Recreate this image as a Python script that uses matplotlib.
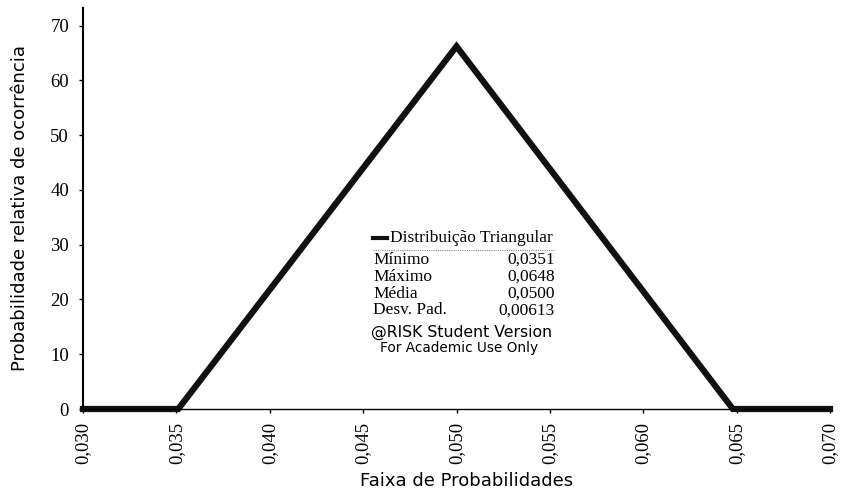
import matplotlib
matplotlib.use('Agg')
import matplotlib.pyplot as plt

# triangular distribution outline
x_vals = [0.030, 0.0351, 0.0500, 0.0648, 0.070]
y_vals = [0, 0, 66.2, 0, 0]

x_ticks = [0.030, 0.035, 0.040, 0.045, 0.050, 0.055, 0.060, 0.065, 0.070]
x_tick_labels = ['0,030', '0,035', '0,040', '0,045', '0,050', '0,055', '0,060', '0,065', '0,070']
y_ticks = [0, 10, 20, 30, 40, 50, 60, 70]

stat_names = ['Mínimo', 'Máximo', 'Média', 'Desv. Pad.']
stat_values = ['0,0351', '0,0648', '0,0500', '0,00613']

serif = 'Liberation Serif'
sans = 'DejaVu Sans'

fig = plt.figure(figsize=(8.41, 4.95), dpi=100)
ax = fig.add_axes([83 / 841, 1 - 409 / 495, (830 - 83) / 841, (409 - 8) / 495])

ax.plot(x_vals, y_vals, color='#111111', linewidth=4.5, solid_joinstyle='miter', clip_on=False)
ax.set_xlim(0.030, 0.070)
ax.set_ylim(0, 73.2)

ax.spines['top'].set_visible(False)
ax.spines['right'].set_visible(False)
ax.spines['left'].set_linewidth(1.5)
ax.spines['bottom'].set_linewidth(1.0)

ax.set_xticks(x_ticks)
ax.set_xticklabels(x_tick_labels, rotation=90, fontfamily=serif, fontsize=13.5)
ax.set_yticks(y_ticks)
ax.set_yticklabels([str(v) for v in y_ticks], fontfamily=serif, fontsize=13.5)
ax.tick_params(axis='both', length=3, width=1, direction='out')
ax.tick_params(axis='y', pad=7)
ax.tick_params(axis='x', pad=6)

ax.set_xlabel('Faixa de Probabilidades', fontfamily=sans, fontsize=13)
ax.xaxis.set_label_coords((467 - 83) / (830 - 83), -(472 - 409) / (409 - 8))
ax.set_ylabel('Probabilidade relativa de ocorrência', fontfamily=sans, fontsize=13)
ax.yaxis.set_label_coords(-(83 - 29) / (830 - 83), (409 - 208) / (409 - 8))

# legend / statistics block
def px(x, y):
    return (x / 841, 1 - y / 495)

fig.lines.append(plt.Line2D([px(373, 0)[0], px(387, 0)[0]], [px(0, 238)[1]] * 2,
                            color='#111111', linewidth=3, transform=fig.transFigure))
fig.text(*px(390, 238), 'Distribuição Triangular', fontfamily=serif, fontsize=12.5, va='center')
fig.lines.append(plt.Line2D([px(373, 0)[0], px(555, 0)[0]], [px(0, 250)[1]] * 2,
                            color='#888888', linewidth=0.8, linestyle=(0, (1, 1)),
                            transform=fig.transFigure))
for i, (n, v) in enumerate(zip(stat_names, stat_values)):
    yy = 260 + i * 16.8
    fig.text(*px(373, yy), n, fontfamily=serif, fontsize=12.5, va='center')
    fig.text(*px(555, yy), v, fontfamily=serif, fontsize=12.5, va='center', ha='right')
fig.text(*px(462, 332), '@RISK Student Version', fontfamily=sans, fontsize=11.3, va='center', ha='center')
fig.text(*px(459, 348), 'For Academic Use Only', fontfamily=sans, fontsize=9.8, va='center', ha='center')

fig.savefig('out.png', dpi=100)
